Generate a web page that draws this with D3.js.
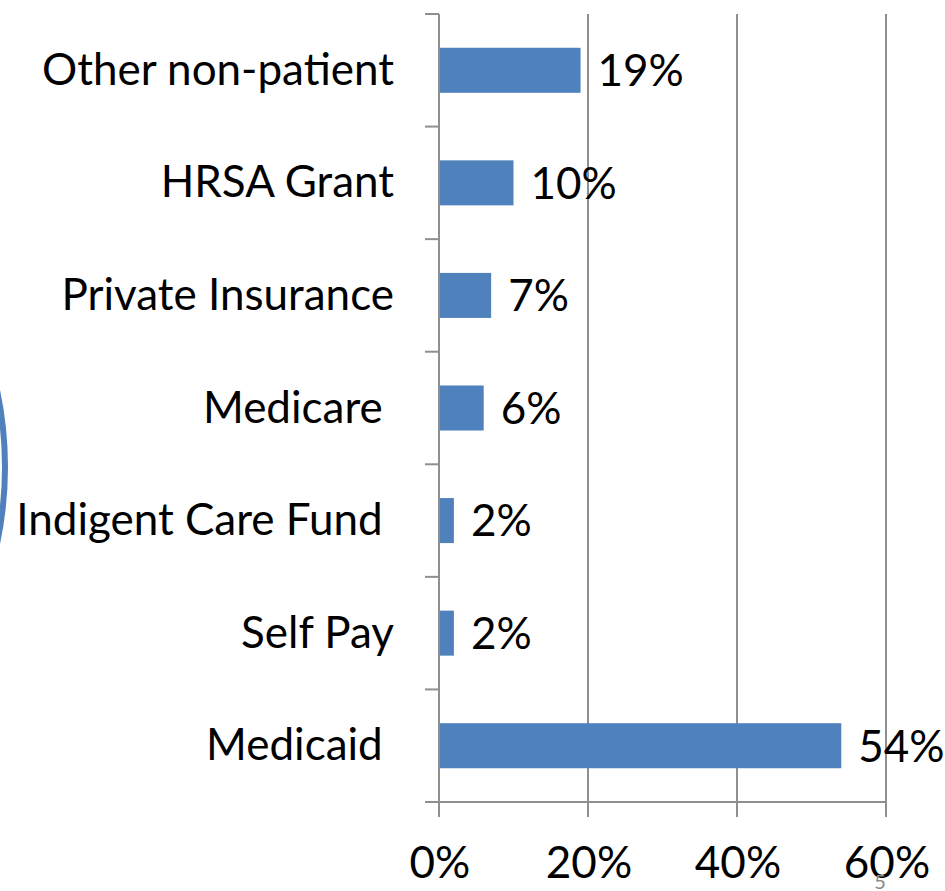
<!DOCTYPE html>
<html>
<head>
<meta charset="utf-8">
<script src="https://cdn.jsdelivr.net/npm/d3@7"></script>
<style>
  html, body { margin: 0; padding: 0; background: #fff; }
  svg { display: block; }
  text { font-family: Lato, "Open Sans", sans-serif; fill: #000; white-space: pre; }
</style>
</head>
<body>
<svg id="chart" width="945" height="891"></svg>
<script>
const categories = ["Other non-patient", "HRSA Grant", "Private Insurance", "Medicare ", "Indigent Care Fund ", "Self Pay", "Medicaid "];
const values = [19, 10, 7, 6, 2, 2, 54];
const xTicks = [0, 20, 40, 60];
const tickLabels = ["0%", "20%", "40%", "60%"];

const svg = d3.select("#chart");
const axisColor = "#8f8f8f";
const barColor = "#4f81bd";

const x = d3.scaleLinear().domain([0, 60]).range([439, 886]);
const y = d3.scaleBand().domain(categories).range([14, 802]).padding(0);

// decorative arc at left edge
svg.append("circle")
  .attr("cx", -366).attr("cy", 467).attr("r", 371)
  .attr("fill", "none").attr("stroke", barColor).attr("stroke-width", 6);

// vertical gridlines
svg.append("g").selectAll("line").data(xTicks.slice(1)).join("line")
  .attr("x1", d => x(d)).attr("x2", d => x(d))
  .attr("y1", 14).attr("y2", 817)
  .attr("stroke", axisColor).attr("stroke-width", 2);

// bottom axis line
svg.append("line")
  .attr("x1", 425).attr("x2", x(60)).attr("y1", 802).attr("y2", 802)
  .attr("stroke", axisColor).attr("stroke-width", 2);

// left axis line
svg.append("line")
  .attr("x1", x(0)).attr("x2", x(0)).attr("y1", 14).attr("y2", 817)
  .attr("stroke", axisColor).attr("stroke-width", 2);

// category boundary ticks
const bounds = categories.map(c => y(c)).concat([y.range()[1]]);
svg.append("g").selectAll("line").data(bounds).join("line")
  .attr("x1", 425).attr("x2", x(0))
  .attr("y1", d => d).attr("y2", d => d)
  .attr("stroke", axisColor).attr("stroke-width", 2);

// bars
const step = y.step();
const barH = step * 0.4;
svg.append("g").selectAll("rect").data(values).join("rect")
  .attr("x", x(0) + 1)
  .attr("y", (d, i) => y(categories[i]) + (step - barH) / 2)
  .attr("width", d => x(d) - x(0) - 1)
  .attr("height", barH)
  .attr("fill", barColor);

// font sizing to match reference width
const probe = svg.append("text").attr("font-size", 48).text("Other non-patient");
const w = probe.node().getComputedTextLength();
probe.remove();
const fs = 48 * 352 / w;

// category labels
svg.append("g").selectAll("text").data(categories).join("text")
  .attr("x", 394)
  .attr("y", d => y(d) + step / 2 + fs * 0.33)
  .attr("text-anchor", "end")
  .attr("font-size", fs)
  .text(d => d);

// value labels
svg.append("g").selectAll("text").data(values).join("text")
  .attr("x", d => x(d) + 17)
  .attr("y", (d, i) => y(categories[i]) + step / 2 + fs * 0.36)
  .attr("font-size", fs)
  .text(d => d + "%");

// x tick labels
svg.append("g").selectAll("text").data(xTicks).join("text")
  .attr("x", d => x(d) + 1)
  .attr("y", 878)
  .attr("text-anchor", "middle")
  .attr("font-size", fs)
  .text((d, i) => tickLabels[i]);

// slide number
svg.append("text")
  .attr("x", 880).attr("y", 889)
  .attr("text-anchor", "middle")
  .attr("font-size", 20)
  .style("fill", "#8a8a8a")
  .text("5");
</script>
</body>
</html>
